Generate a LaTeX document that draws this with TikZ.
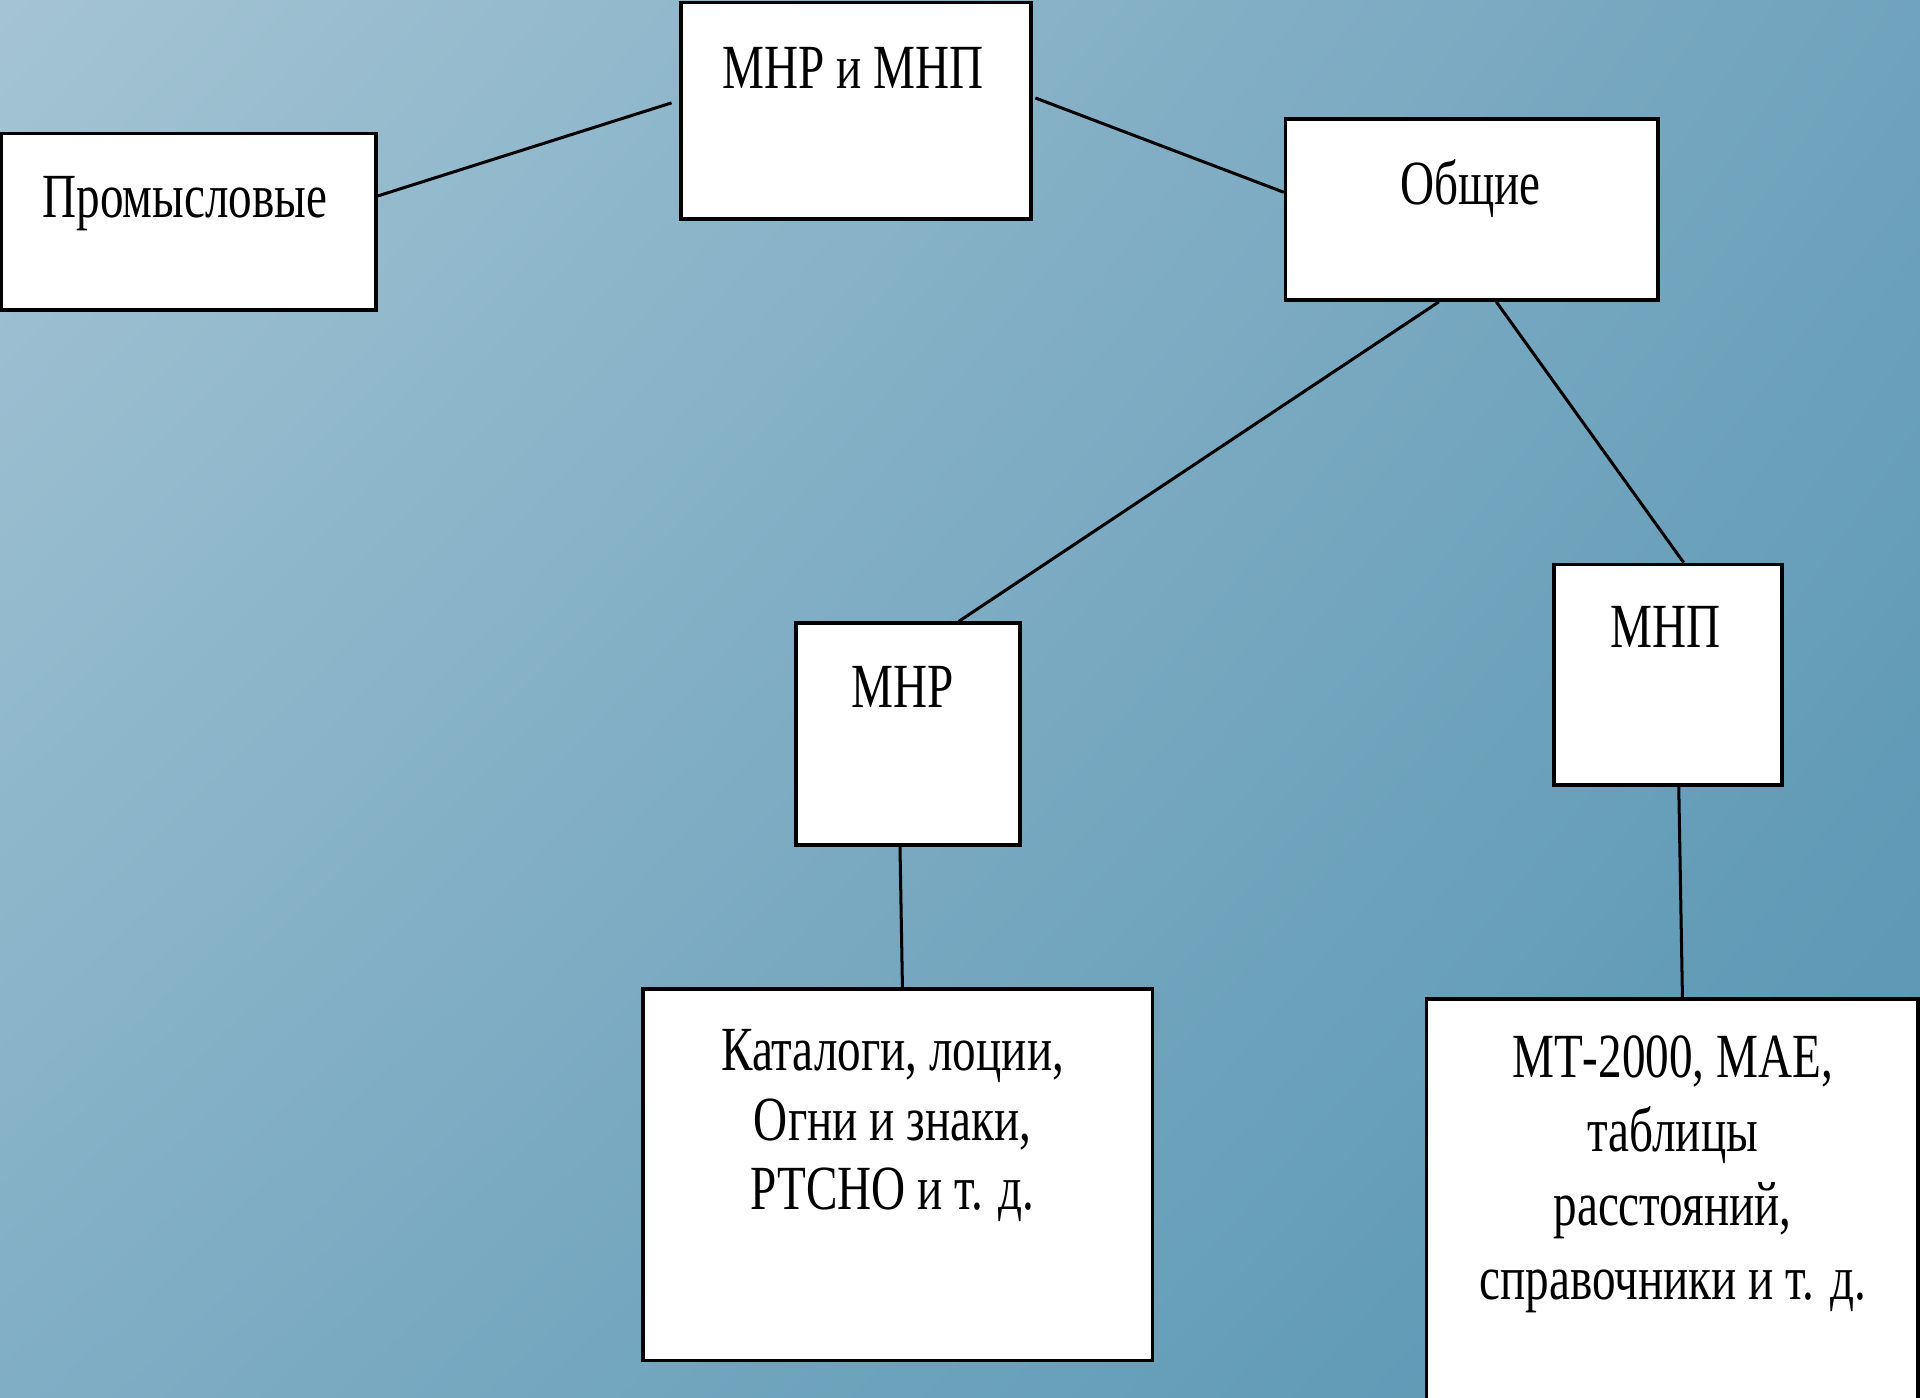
\documentclass[tikz,border=0pt]{standalone}
\usepackage{fontspec}
\setmainfont{Liberation Serif}[FakeStretch=0.75]
\usetikzlibrary{calc,shadings}
\definecolor{bgUL}{RGB}{164,196,212}
\definecolor{bgUR}{RGB}{112,163,189}
\definecolor{bgLL}{RGB}{128,174,197}
\definecolor{bgLR}{RGB}{86,148,177}
\tikzset{
  box/.style={draw=black, fill=white, line width=0.85pt, rectangle, inner sep=0pt},
  txt/.style={font=\fontsize{14.6}{16.2}\selectfont, inner sep=0pt, anchor=base, align=center},
  link/.style={draw=black, line width=0.7pt}
}
\begin{document}
\begin{tikzpicture}[x=0.01cm, y=-0.01cm]
\useasboundingbox (0,0) rectangle (1568,1141);
\shade[upper left=bgUL, upper right=bgUR, lower left=bgLL, lower right=bgLR] (0,0) rectangle (1568,1141);
% boxes
\node[box, minimum width=2.86cm, minimum height=1.77cm] (mm) at (699,90.5) {};
\node[box, minimum width=3.06cm, minimum height=1.44cm] (prom) at (154,181) {};
\node[box, minimum width=3.04cm, minimum height=1.48cm] (ob) at (1202,171) {};
\node[box, minimum width=1.83cm, minimum height=1.81cm] (mnr) at (741.5,599.5) {};
\node[box, minimum width=1.86cm, minimum height=1.80cm] (mnp) at (1362,551) {};
\node[box, minimum width=4.16cm, minimum height=3.03cm] (kat) at (733,959.5) {};
\node[box, minimum width=4.01cm, minimum height=3.44cm] (mt) at (1365.5,988) {};
% texts
\node[txt] (tmm) at (697,72) {МНР и МНП};
\node[txt] (tprom) at (151,178) {Промысловые};
\node[txt] (tob) at (1201,167) {Общие};
\node[txt] (tmnr) at (737,578) {МНР};
\node[txt] (tmnp) at (1360,529) {МНП};
\node[txt] (tkat) at (729,988) {Каталоги, лоции,\\Огни и знаки,\\РТСНО и т. д.};
\node[txt, font=\fontsize{14.6}{17.2}\selectfont] (tmt) at (1366,1061) {МТ-2000, МАЕ,\\таблицы\\расстояний,\\справочники и т. д.};
% connectors
\draw[link] ($(prom.east)+(0,-21)$) -- ($(mm.west)+(-6,-6.5)$);
\draw[link] ($(mm.east)+(2,-10.5)$) -- ($(ob.west)+(0,-14)$);
\draw[link] ($(ob.south)+(-27,0)$) -- ($(mnr.north)+(41.5,0)$);
\draw[link] ($(ob.south)+(20,0)$) -- ($(mnp.north)+(13,0)$);
\draw[link] ($(mnr.south)+(-6.5,0)$) -- ($(kat.north)+(4,0)$);
\draw[link] ($(mnp.south)+(9,0)$) -- ($(mt.north)+(8.5,0)$);
\end{tikzpicture}
\end{document}
